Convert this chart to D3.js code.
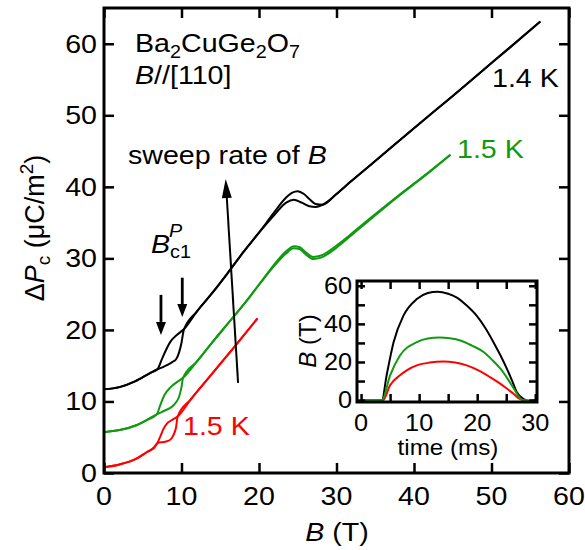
<!DOCTYPE html>
<html>
<head>
<meta charset="utf-8">
<script src="https://cdn.jsdelivr.net/npm/d3@7"></script>
<style>
body { margin: 0; background: #fff; }
text { font-family: "Liberation Sans", Arial, sans-serif; fill: #000; }
</style>
</head>
<body>
<svg id="chart" width="585" height="550"></svg>
<script>
// main panel: delta P_c vs B, two sweep branches per curve
var black1B = [0, 2, 4, 6, 6.9, 7.5, 8.0, 8.6, 9.4, 10.3, 12, 14, 16, 18, 20, 22, 23.5, 24.3, 25.0, 25.8, 26.5, 27.3, 28.2, 30, 31.8, 35, 40, 45, 50, 56.3];
var black1P = [11.7, 12.0, 12.8, 14.0, 14.5, 16.0, 17.2, 18.4, 19.3, 20.1, 22.6, 25.2, 28.0, 30.9, 33.6, 36.5, 38.5, 39.2, 39.4, 39.0, 38.3, 37.6, 37.5, 39.0, 40.7, 43.6, 48.2, 52.7, 57.3, 63.1];
var black2B = [0, 2, 4, 6, 6.9, 7.6, 8.2, 8.8, 9.3, 9.7, 10.0, 10.3, 12, 14, 16, 18, 20, 22, 23.5, 24.5, 25.5, 26.5, 27.3, 28.2, 30, 31.8, 35, 40, 45, 50, 56.3];
var black2P = [11.7, 12.0, 12.8, 14.0, 14.5, 14.8, 15.1, 15.5, 15.9, 16.9, 18.2, 20.0, 22.6, 25.2, 28.0, 30.9, 33.6, 36.1, 37.8, 38.2, 37.8, 37.3, 37.2, 37.5, 39.0, 40.7, 43.6, 48.2, 52.7, 57.3, 63.1];

var green1B = [0, 2, 4, 5.5, 6.8, 7.3, 7.8, 8.6, 9.4, 10.2, 12, 14, 16, 18.5, 20.2, 22, 23.5, 24.5, 25.2, 26, 27, 28, 30, 32, 34.1, 38, 41, 44.7];
var green1P = [5.7, 6.0, 6.6, 7.4, 8.2, 9.6, 10.9, 12.0, 12.7, 13.3, 15.6, 18.3, 20.9, 24.2, 26.6, 29.2, 31.0, 31.7, 31.6, 30.9, 30.2, 30.4, 31.8, 33.5, 35.4, 38.8, 41.3, 44.5];
var green2B = [0, 2, 4, 5.5, 6.8, 7.8, 8.8, 9.3, 9.7, 10.0, 10.2, 12, 14, 16, 18.5, 20.2, 22, 23.5, 24.5, 25.2, 26, 27, 28, 30, 32, 34.1, 38, 41, 44.7];
var green2P = [5.7, 6.0, 6.6, 7.4, 8.2, 8.7, 9.3, 9.9, 10.7, 12.0, 13.3, 15.6, 18.3, 20.9, 24.2, 26.6, 29.0, 30.7, 31.4, 31.3, 30.6, 29.9, 30.1, 31.5, 33.3, 35.2, 38.7, 41.2, 44.5];

var red1B = [0, 2, 4.2, 5.5, 6.5, 6.9, 7.3, 7.6, 8.2, 8.9, 9.5, 11.2, 13.5, 16.8, 19.8];
var red1P = [0.8, 1.2, 2.0, 2.9, 3.6, 4.2, 5.2, 6.0, 7.0, 7.5, 7.9, 10.3, 13.3, 17.6, 21.6];
var red2B = [0, 2, 4.2, 5.5, 6.5, 6.9, 8.0, 8.6, 9.0, 9.3, 9.5, 11.2, 13.5, 16.8, 19.8];
var red2P = [0.8, 1.2, 2.0, 2.9, 3.6, 4.2, 4.4, 4.7, 5.4, 6.4, 7.9, 10.3, 13.3, 17.6, 21.6];

// inset: field pulse vs time
var timeBlack = [0.3, 3.6, 4.4, 5.6, 7.3, 9.6, 11.5, 13.2, 15.0, 16.5, 18.2, 19.9, 21.4, 22.8, 24.0, 25.1, 26.0, 26.8, 28.0, 29.1, 30.0];
var fieldBlack = [0, 0, 13.0, 30.4, 44.3, 53.0, 56.2, 56.9, 55.8, 53.8, 49.6, 44.3, 37.8, 30.4, 23.5, 16.5, 10.2, 4.3, 0.5, -0.6, 0];
var timeGreen = [0.5, 3.6, 5.0, 6.7, 9.6, 11.5, 13.5, 15.3, 17.1, 19.1, 21.1, 22.6, 24.0, 25.2, 26.3, 27.7, 29.0, 30.0];
var fieldGreen = [0, 0, 13.0, 23.4, 30.4, 32.3, 32.8, 32.4, 31.3, 28.6, 25.2, 21.0, 16.5, 11.4, 6.1, 0.2, -0.4, 0];
var timeRed = [0.3, 3.8, 5.0, 6.7, 8.0, 9.6, 11.8, 14.2, 16.2, 18.2, 20.2, 22.2, 23.7, 25.1, 26.3, 27.4, 29.0, 30.0];
var fieldRed = [0, 0, 7.8, 13.0, 15.9, 18.2, 19.7, 20.3, 19.7, 18.2, 15.6, 12.1, 9.2, 6.1, 3.2, 0.5, -0.3, 0];

var mainTicks = [0, 10, 20, 30, 40, 50, 60];
var insetXTicks = [0, 10, 20, 30];
var insetXMinor = [5, 15, 25];
var insetYTicks = [0, 20, 40, 60];
var insetYMinor = [10, 30, 50];

var BLACK = "#000", GREEN = "#109a10", RED = "#ff0000";
var fs = 26, ifs = 23, subFs = 18, stretch = 1.1;

var svg = d3.select("#chart");

var x = d3.scaleLinear().domain([0, 60]).range([104, 569]);
var y = d3.scaleLinear().domain([0, 65]).range([473, 8]);

function zip(a, b) { return a.map(function(v, i) { return [v, b[i]]; }); }

// the reference type is a little wider than Arial, so horizontal labels get a small x-stretch
function label(parent, px, py, size, anchor) {
  return parent.append("g").attr("transform", "translate(" + px + "," + py + ") scale(" + stretch + ",1)")
    .append("text").attr("text-anchor", anchor || "start").style("font-size", size + "px");
}

function frameAxes(g, xs, ys, xt, yt, len, width) {
  var x0 = xs.range()[0], x1 = xs.range()[1], y0 = ys.range()[0], y1 = ys.range()[1];
  g.append("g").attr("transform", "translate(0," + y0 + ")")
    .call(d3.axisBottom(xs).tickValues(xt).tickSizeInner(-len).tickSizeOuter(0).tickFormat(""));
  g.append("g").attr("transform", "translate(0," + y1 + ")")
    .call(d3.axisTop(xs).tickValues(xt).tickSizeInner(-len).tickSizeOuter(0).tickFormat(""));
  g.append("g").attr("transform", "translate(" + x0 + ",0)")
    .call(d3.axisLeft(ys).tickValues(yt).tickSizeInner(-len).tickSizeOuter(0).tickFormat(""));
  g.append("g").attr("transform", "translate(" + x1 + ",0)")
    .call(d3.axisRight(ys).tickValues(yt).tickSizeInner(-len).tickSizeOuter(0).tickFormat(""));
  g.selectAll(".domain").remove();
  g.selectAll(".tick line").attr("stroke", "#000").attr("stroke-width", width);
  g.append("rect").attr("x", x0).attr("y", y1).attr("width", x1 - x0).attr("height", y0 - y1)
    .attr("fill", "none").attr("stroke", "#000").attr("stroke-width", width + 0.5);
}

var line = d3.line().x(function(d) { return x(d[0]); }).y(function(d) { return y(d[1]); }).curve(d3.curveMonotoneX);

var curves = [
  [red1B, red1P, RED], [red2B, red2P, RED],
  [green1B, green1P, GREEN], [green2B, green2P, GREEN],
  [black1B, black1P, BLACK], [black2B, black2P, BLACK]
];
curves.forEach(function(c) {
  svg.append("path").attr("d", line(zip(c[0], c[1])))
    .attr("fill", "none").attr("stroke", c[2]).attr("stroke-width", 2);
});

frameAxes(svg.append("g"), x, y, mainTicks, mainTicks, 10, 2.5);

// tick labels
mainTicks.forEach(function(d) {
  label(svg, x(d), 505, fs, "middle").text(d);
  label(svg, 97, y(d) + 9, fs, "end").text(d);
});

// axis titles
var xt = label(svg, 337, 541, fs, "middle");
xt.append("tspan").style("font-style", "italic").text("B");
xt.append("tspan").text(" (T)");

var yt = svg.append("text").attr("transform", "translate(44,228) rotate(-90)").attr("text-anchor", "middle").style("font-size", "27px");
yt.append("tspan").text("\u0394");
yt.append("tspan").style("font-style", "italic").text("P");
yt.append("tspan").attr("dy", 6).style("font-size", "19px").text("c");
yt.append("tspan").attr("dy", -6).text(" (\u03bcC/m");
yt.append("tspan").attr("dy", -11).style("font-size", "19px").text("2");
yt.append("tspan").attr("dy", 11).text(")");

// annotations
var t1 = label(svg, 135, 52, fs);
t1.append("tspan").text("Ba");
t1.append("tspan").attr("dy", 6).style("font-size", subFs + "px").text("2");
t1.append("tspan").attr("dy", -6).text("CuGe");
t1.append("tspan").attr("dy", 6).style("font-size", subFs + "px").text("2");
t1.append("tspan").attr("dy", -6).text("O");
t1.append("tspan").attr("dy", 6).style("font-size", subFs + "px").text("7");

var t2 = label(svg, 135, 84, fs);
t2.append("tspan").style("font-style", "italic").text("B");
t2.append("tspan").text("//[110]");

var t3 = label(svg, 128, 164, fs);
t3.append("tspan").text("sweep rate of ");
t3.append("tspan").style("font-style", "italic").text("B");

var t4 = label(svg, 151, 253, fs);
t4.append("tspan").style("font-style", "italic").text("B");
t4.append("tspan").attr("dy", 5).style("font-size", subFs + "px").text("c1");
label(svg, 169, 237, subFs).style("font-style", "italic").text("P");

label(svg, 492, 87, fs).text("1.4 K");
label(svg, 457, 158, fs).style("fill", GREEN).text("1.5 K");
label(svg, 183, 435, fs).style("fill", RED).text("1.5 K");

function arrow(xa, ya, xb, yb, w, headLen, headW) {
  var ang = Math.atan2(yb - ya, xb - xa);
  var bx = xb - headLen * Math.cos(ang), by = yb - headLen * Math.sin(ang);
  svg.append("line").attr("x1", xa).attr("y1", ya).attr("x2", bx).attr("y2", by)
    .attr("stroke", "#000").attr("stroke-width", w);
  var px = -Math.sin(ang) * headW / 2, py = Math.cos(ang) * headW / 2;
  svg.append("path").attr("d", "M" + xb + "," + yb + "L" + (bx + px) + "," + (by + py) + "L" + (bx - px) + "," + (by - py) + "Z")
    .attr("fill", "#000");
}
// sweep-rate arrow and B_c1 markers, placed in data units
arrow(x(17.3), y(12.6), x(15.7), y(41.1), 2, 19, 10);
arrow(x(7.35), y(24.9), x(7.35), y(19.3), 2.8, 13, 10);
arrow(x(10.1), y(27.3), x(10.1), y(21.8), 2.8, 13, 10);

// inset
var inset = svg.append("g");
var ix = d3.scaleLinear().domain([-0.7, 30.3]).range([357, 537]);
var iy = d3.scaleLinear().domain([-1, 62.5]).range([402, 281]);
inset.append("rect").attr("x", 357).attr("y", 281).attr("width", 180).attr("height", 121).attr("fill", "#fff");
var iline = d3.line().x(function(d) { return ix(d[0]); }).y(function(d) { return iy(d[1]); }).curve(d3.curveMonotoneX);
[[timeBlack, fieldBlack, BLACK], [timeRed, fieldRed, RED], [timeGreen, fieldGreen, GREEN]].forEach(function(c) {
  inset.append("path").attr("d", iline(zip(c[0], c[1])))
    .attr("fill", "none").attr("stroke", c[2]).attr("stroke-width", 2);
});
frameAxes(inset.append("g"), ix, iy, insetXTicks.concat(insetXMinor), insetYTicks.concat(insetYMinor), 8, 2.5);

insetXTicks.forEach(function(d) { label(inset, ix(d), 431, ifs, "middle").text(d); });
insetYTicks.forEach(function(d) { label(inset, 352, iy(d) + 8, ifs, "end").text(d); });
label(inset, 448, 455, 22, "middle").text("time (ms)");
var iyt = inset.append("text").attr("transform", "translate(316,341) rotate(-90)").attr("text-anchor", "middle").style("font-size", "24px");
iyt.append("tspan").style("font-style", "italic").text("B");
iyt.append("tspan").text(" (T)");
</script>
</body>
</html>
